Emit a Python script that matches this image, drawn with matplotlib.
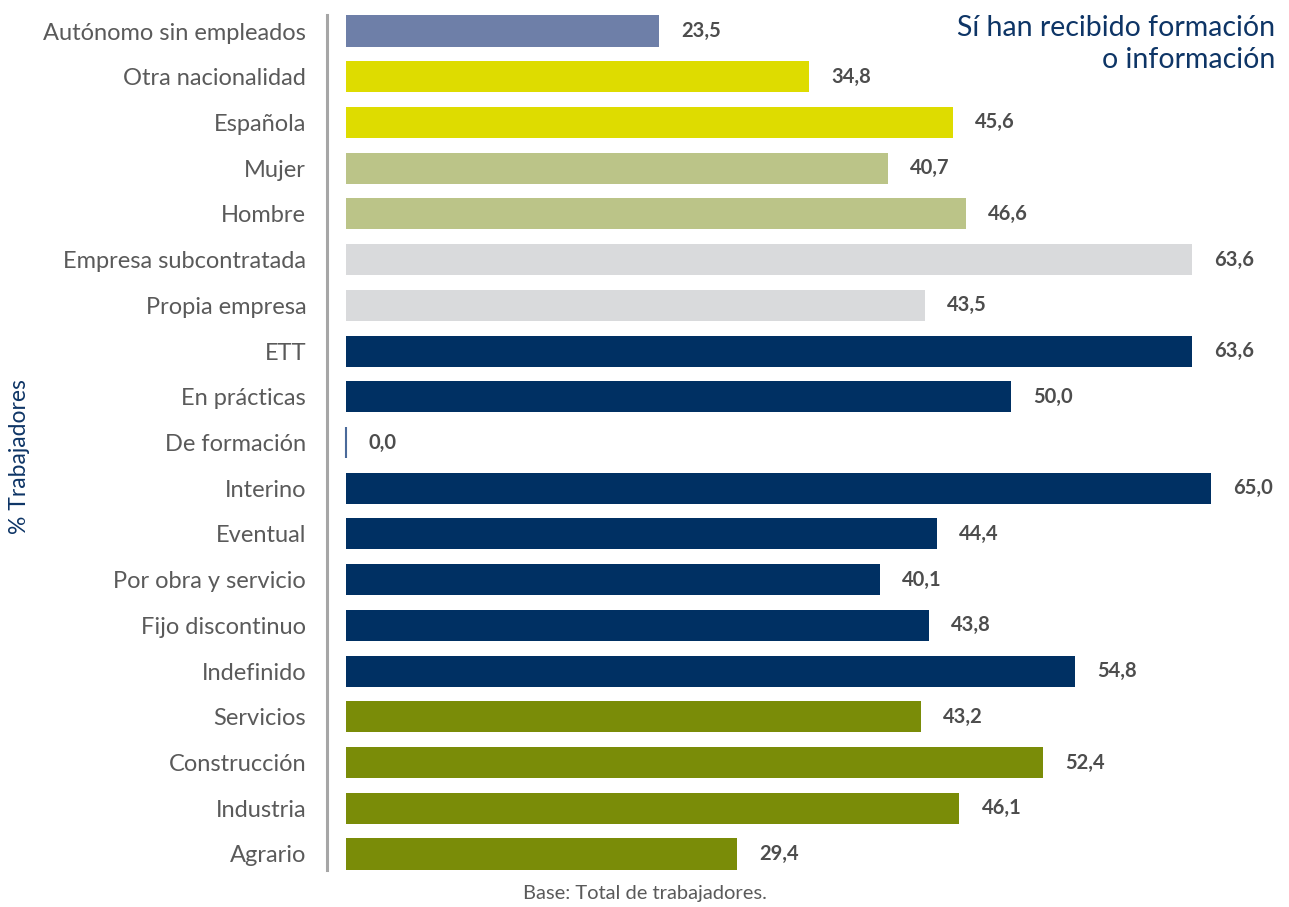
import matplotlib
matplotlib.use("Agg")
import matplotlib.pyplot as plt

plt.rcParams['font.family'] = ['Lato', 'DejaVu Sans']

# categories from bottom to top
categories = ["Agrario", "Industria", "Construcción", "Servicios",
              "Indefinido", "Fijo discontinuo", "Por obra y servicio", "Eventual",
              "Interino", "De formación", "En prácticas", "ETT",
              "Propia empresa", "Empresa subcontratada",
              "Hombre", "Mujer",
              "Española", "Otra nacionalidad",
              "Autónomo sin empleados"]
values = [29.4, 46.1, 52.4, 43.2,
          54.8, 43.8, 40.1, 44.4,
          65.0, 0.0, 50.0, 63.6,
          43.5, 63.6,
          46.6, 40.7,
          45.6, 34.8,
          23.5]
groups = ["sector"] * 4 + ["contrato"] * 8 + ["empresa"] * 2 + ["sexo"] * 2 + ["nacionalidad"] * 2 + ["autonomo"]

group_colors = {
    "sector": "#7A8C08",
    "contrato": "#003063",
    "empresa": "#D9DADC",
    "sexo": "#BBC488",
    "nacionalidad": "#DEDC00",
    "autonomo": "#6E7FA8",
}

navy = "#0E3566"
grey_text = "#5A5A5A"

fig = plt.figure(figsize=(12.89, 9.07), dpi=100)
ax = fig.add_axes([327 / 1289, 1 - 870 / 907, (1280 - 327) / 1289, (870 - 15) / 907])

colors = [group_colors[g] for g in groups]
ypos = list(range(len(categories)))
# zero-width bar still shows as a thin line
edge_w = [1.5 if v == 0 else 0 for v in values]
edge_c = ["#4A6A9A" if v == 0 else c for v, c in zip(values, colors)]
ax.barh(ypos, values, height=0.68, color=colors, edgecolor=edge_c, linewidth=edge_w)

for y, v in zip(ypos, values):
    ax.annotate(f"{v:.1f}".replace(".", ","), (v, y), xytext=(16, 0),
                textcoords="offset points", va="center", ha="left",
                fontsize=14.5, fontweight="bold", color="#4D4D4D")

ax.set_xlim(-1.43, 70.2)
ax.set_ylim(-0.35, len(categories) - 1 + 0.35)
ax.set_yticks(ypos)
ax.set_yticklabels(categories, fontsize=17, color=grey_text)
ax.tick_params(axis="y", length=0, pad=15)
ax.set_xticks([])

for s in ["top", "right", "bottom"]:
    ax.spines[s].set_visible(False)
ax.spines["left"].set_color("#A6A6A6")
ax.spines["left"].set_linewidth(2.2)

fig.text(20 / 1289, 1 - 457 / 907, "% Trabajadores", rotation=90, ha="center", va="center",
         fontsize=16.5, color=navy)
fig.text(1275 / 1289, 1 - 44 / 907, "Sí han recibido formación\no información", ha="right", va="center",
         fontsize=20.5, color=navy, linespacing=1.25)
fig.text(645 / 1289, 1 - 893 / 907, "Base: Total de trabajadores.", ha="center", va="center",
         fontsize=14.5, color=grey_text)

fig.savefig("out.png", dpi=100)
